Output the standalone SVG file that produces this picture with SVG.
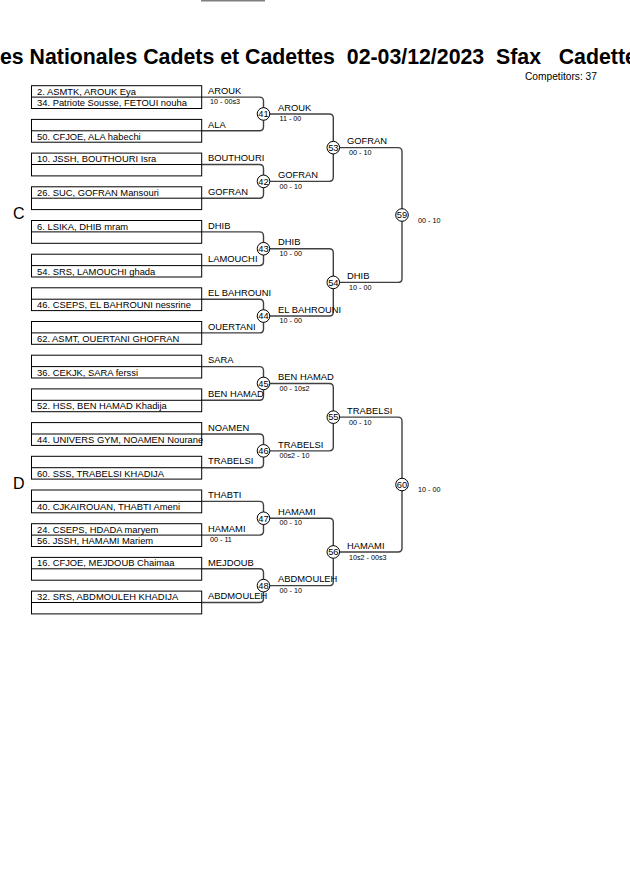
<svg xmlns="http://www.w3.org/2000/svg" width="630" height="891" viewBox="0 0 630 891">
<style>
text{font-family:"Liberation Sans",Arial,sans-serif;fill:#000}
.title{font-size:21.3px;font-weight:bold;white-space:pre}
.comp{font-size:10.2px}
.grp{font-size:16px}
.t{font-size:9.4px}
.s{font-size:7.2px}
.n{font-size:9.3px;text-anchor:middle}
.box{fill:none;stroke:#000;stroke-width:1}
.c{fill:#fff;stroke:#000;stroke-width:1}
.ln{fill:none;stroke:#404040;stroke-width:1.4}
</style>
<rect width="630" height="891" fill="#fff"/>
<rect x="201" y="0" width="64" height="1.5" fill="#808080"/>
<text class="title" x="0" y="64" xml:space="preserve">es Nationales Cadets et Cadettes  02-03/12/2023  Sfax   Cadettes</text>
<text class="comp" x="525" y="80">Competitors: 37</text>
<text class="grp" x="13" y="219">C</text>
<text class="grp" x="13" y="489">D</text>

<g id="connectors">
<path class="ln" d="M201.7,97.1 H259.5 Q263.5,97.1 263.5,101.1 V126.8 Q263.5,130.8 259.5,130.8 H201.7"/>
<path class="ln" d="M201.7,164.5 H259.5 Q263.5,164.5 263.5,168.5 V194.2 Q263.5,198.2 259.5,198.2 H201.7"/>
<path class="ln" d="M201.7,231.9 H259.5 Q263.5,231.9 263.5,235.9 V261.6 Q263.5,265.6 259.5,265.6 H201.7"/>
<path class="ln" d="M201.7,299.2 H259.5 Q263.5,299.2 263.5,303.2 V328.9 Q263.5,332.9 259.5,332.9 H201.7"/>
<path class="ln" d="M201.7,366.6 H259.5 Q263.5,366.6 263.5,370.6 V396.3 Q263.5,400.3 259.5,400.3 H201.7"/>
<path class="ln" d="M201.7,434 H259.5 Q263.5,434 263.5,438 V463.7 Q263.5,467.7 259.5,467.7 H201.7"/>
<path class="ln" d="M201.7,501.4 H259.5 Q263.5,501.4 263.5,505.4 V531.1 Q263.5,535.1 259.5,535.1 H201.7"/>
<path class="ln" d="M201.7,568.8 H259.5 Q263.5,568.8 263.5,572.8 V598.5 Q263.5,602.5 259.5,602.5 H201.7"/>
<path class="ln" d="M263.5,113.95 H329.3 Q333.3,113.95 333.3,117.95 V177.35 Q333.3,181.35 329.3,181.35 H263.5"/>
<path class="ln" d="M263.5,248.75 H329.3 Q333.3,248.75 333.3,252.75 V312.05 Q333.3,316.05 329.3,316.05 H263.5"/>
<path class="ln" d="M263.5,383.45 H329.3 Q333.3,383.45 333.3,387.45 V446.85 Q333.3,450.85 329.3,450.85 H263.5"/>
<path class="ln" d="M263.5,518.25 H329.3 Q333.3,518.25 333.3,522.25 V581.65 Q333.3,585.65 329.3,585.65 H263.5"/>
<path class="ln" d="M333.3,147.65 H398 Q402,147.65 402,151.65 V278.4 Q402,282.4 398,282.4 H333.3"/>
<path class="ln" d="M333.3,417.15 H398 Q402,417.15 402,421.15 V547.95 Q402,551.95 398,551.95 H333.3"/>
</g>

<g id="entry1"><rect class="box" x="31.5" y="85.7" width="170.2" height="22.8"/><line class="box" x1="31.5" y1="97.1" x2="201.7" y2="97.1"/><text class="t" x="37" y="94.7">2. ASMTK, AROUK Eya</text><text class="t" x="37" y="106.1">34. Patriote Sousse, FETOUI nouha</text><text class="t" x="208" y="93.8">AROUK</text><text class="s" x="210" y="104.3">10 - 00s3</text></g>
<g id="entry2"><rect class="box" x="31.5" y="119.4" width="170.2" height="22.8"/><line class="box" x1="31.5" y1="130.8" x2="201.7" y2="130.8"/><text class="t" x="37" y="139.8">50. CFJOE, ALA habechi</text><text class="t" x="208" y="127.5">ALA</text></g>
<g id="entry3"><rect class="box" x="31.5" y="153.1" width="170.2" height="22.8"/><line class="box" x1="31.5" y1="164.5" x2="201.7" y2="164.5"/><text class="t" x="37" y="162.1">10. JSSH, BOUTHOURI Isra</text><text class="t" x="208" y="161.2">BOUTHOURI</text></g>
<g id="entry4"><rect class="box" x="31.5" y="186.8" width="170.2" height="22.8"/><line class="box" x1="31.5" y1="198.2" x2="201.7" y2="198.2"/><text class="t" x="37" y="195.8">26. SUC, GOFRAN Mansouri</text><text class="t" x="208" y="194.9">GOFRAN</text></g>
<g id="entry5"><rect class="box" x="31.5" y="220.5" width="170.2" height="22.8"/><line class="box" x1="31.5" y1="231.9" x2="201.7" y2="231.9"/><text class="t" x="37" y="229.5">6. LSIKA, DHIB mram</text><text class="t" x="208" y="228.6">DHIB</text></g>
<g id="entry6"><rect class="box" x="31.5" y="254.2" width="170.2" height="22.8"/><line class="box" x1="31.5" y1="265.6" x2="201.7" y2="265.6"/><text class="t" x="37" y="274.6">54. SRS, LAMOUCHI ghada</text><text class="t" x="208" y="262.3">LAMOUCHI</text></g>
<g id="entry7"><rect class="box" x="31.5" y="287.8" width="170.2" height="22.8"/><line class="box" x1="31.5" y1="299.2" x2="201.7" y2="299.2"/><text class="t" x="37" y="308.2">46. CSEPS, EL BAHROUNI nessrine</text><text class="t" x="208" y="295.9">EL BAHROUNI</text></g>
<g id="entry8"><rect class="box" x="31.5" y="321.5" width="170.2" height="22.8"/><line class="box" x1="31.5" y1="332.9" x2="201.7" y2="332.9"/><text class="t" x="37" y="341.9">62. ASMT, OUERTANI GHOFRAN</text><text class="t" x="208" y="329.6">OUERTANI</text></g>
<g id="entry9"><rect class="box" x="31.5" y="355.2" width="170.2" height="22.8"/><line class="box" x1="31.5" y1="366.6" x2="201.7" y2="366.6"/><text class="t" x="37" y="375.6">36. CEKJK, SARA ferssi</text><text class="t" x="208" y="363.3">SARA</text></g>
<g id="entry10"><rect class="box" x="31.5" y="388.9" width="170.2" height="22.8"/><line class="box" x1="31.5" y1="400.3" x2="201.7" y2="400.3"/><text class="t" x="37" y="409.3">52. HSS, BEN HAMAD Khadija</text><text class="t" x="208" y="397">BEN HAMAD</text></g>
<g id="entry11"><rect class="box" x="31.5" y="422.6" width="170.2" height="22.8"/><line class="box" x1="31.5" y1="434" x2="201.7" y2="434"/><text class="t" x="37" y="443">44. UNIVERS GYM, NOAMEN Nourane</text><text class="t" x="208" y="430.7">NOAMEN</text></g>
<g id="entry12"><rect class="box" x="31.5" y="456.3" width="170.2" height="22.8"/><line class="box" x1="31.5" y1="467.7" x2="201.7" y2="467.7"/><text class="t" x="37" y="476.7">60. SSS, TRABELSI KHADIJA</text><text class="t" x="208" y="464.4">TRABELSI</text></g>
<g id="entry13"><rect class="box" x="31.5" y="490" width="170.2" height="22.8"/><line class="box" x1="31.5" y1="501.4" x2="201.7" y2="501.4"/><text class="t" x="37" y="510.4">40. CJKAIROUAN, THABTI Ameni</text><text class="t" x="208" y="498.1">THABTI</text></g>
<g id="entry14"><rect class="box" x="31.5" y="523.7" width="170.2" height="22.8"/><line class="box" x1="31.5" y1="535.1" x2="201.7" y2="535.1"/><text class="t" x="37" y="532.7">24. CSEPS, HDADA maryem</text><text class="t" x="37" y="544.1">56. JSSH, HAMAMI Mariem</text><text class="t" x="208" y="531.8">HAMAMI</text><text class="s" x="210" y="542.3">00 - 11</text></g>
<g id="entry15"><rect class="box" x="31.5" y="557.4" width="170.2" height="22.8"/><line class="box" x1="31.5" y1="568.8" x2="201.7" y2="568.8"/><text class="t" x="37" y="566.4">16. CFJOE, MEJDOUB Chaimaa</text><text class="t" x="208" y="565.5">MEJDOUB</text></g>
<g id="entry16"><rect class="box" x="31.5" y="591.1" width="170.2" height="22.8"/><line class="box" x1="31.5" y1="602.5" x2="201.7" y2="602.5"/><text class="t" x="37" y="600.1">32. SRS, ABDMOULEH KHADIJA</text><text class="t" x="208" y="599.2">ABDMOULEH</text></g>

<g id="m41"><circle class="c" cx="263.5" cy="113.95" r="6.3"/><text class="n" x="263.5" y="117.2">41</text><text class="t" x="278" y="110.65">AROUK</text><text class="s" x="279.5" y="121.15">11 - 00</text></g>
<g id="m42"><circle class="c" cx="263.5" cy="181.35" r="6.3"/><text class="n" x="263.5" y="184.6">42</text><text class="t" x="278" y="178.05">GOFRAN</text><text class="s" x="279.5" y="188.55">00 - 10</text></g>
<g id="m43"><circle class="c" cx="263.5" cy="248.75" r="6.3"/><text class="n" x="263.5" y="252">43</text><text class="t" x="278" y="245.45">DHIB</text><text class="s" x="279.5" y="255.95">10 - 00</text></g>
<g id="m44"><circle class="c" cx="263.5" cy="316.05" r="6.3"/><text class="n" x="263.5" y="319.3">44</text><text class="t" x="278" y="312.75">EL BAHROUNI</text><text class="s" x="279.5" y="323.25">10 - 00</text></g>
<g id="m45"><circle class="c" cx="263.5" cy="383.45" r="6.3"/><text class="n" x="263.5" y="386.7">45</text><text class="t" x="278" y="380.15">BEN HAMAD</text><text class="s" x="279.5" y="390.65">00 - 10s2</text></g>
<g id="m46"><circle class="c" cx="263.5" cy="450.85" r="6.3"/><text class="n" x="263.5" y="454.1">46</text><text class="t" x="278" y="447.55">TRABELSI</text><text class="s" x="279.5" y="458.05">00s2 - 10</text></g>
<g id="m47"><circle class="c" cx="263.5" cy="518.25" r="6.3"/><text class="n" x="263.5" y="521.5">47</text><text class="t" x="278" y="514.95">HAMAMI</text><text class="s" x="279.5" y="525.45">00 - 10</text></g>
<g id="m48"><circle class="c" cx="263.5" cy="585.65" r="6.3"/><text class="n" x="263.5" y="588.9">48</text><text class="t" x="278" y="582.35">ABDMOULEH</text><text class="s" x="279.5" y="592.85">00 - 10</text></g>
<g id="m53"><circle class="c" cx="333.3" cy="147.65" r="6.3"/><text class="n" x="333.3" y="150.9">53</text><text class="t" x="347" y="144.35">GOFRAN</text><text class="s" x="349" y="155.35">00 - 10</text></g>
<g id="m54"><circle class="c" cx="333.3" cy="282.4" r="6.3"/><text class="n" x="333.3" y="285.65">54</text><text class="t" x="347" y="279.1">DHIB</text><text class="s" x="349" y="290.1">10 - 00</text></g>
<g id="m55"><circle class="c" cx="333.3" cy="417.15" r="6.3"/><text class="n" x="333.3" y="420.4">55</text><text class="t" x="347" y="413.85">TRABELSI</text><text class="s" x="349" y="424.85">00 - 10</text></g>
<g id="m56"><circle class="c" cx="333.3" cy="551.95" r="6.3"/><text class="n" x="333.3" y="555.2">56</text><text class="t" x="347" y="548.65">HAMAMI</text><text class="s" x="349" y="559.65">10s2 - 00s3</text></g>
<g id="m59"><circle class="c" cx="402" cy="215" r="6.3"/><text class="n" x="402" y="218.25">59</text><text class="s" x="418" y="222.5">00 - 10</text></g>
<g id="m60"><circle class="c" cx="402" cy="484.55" r="6.3"/><text class="n" x="402" y="487.8">60</text><text class="s" x="418" y="492.05">10 - 00</text></g>
</svg>
